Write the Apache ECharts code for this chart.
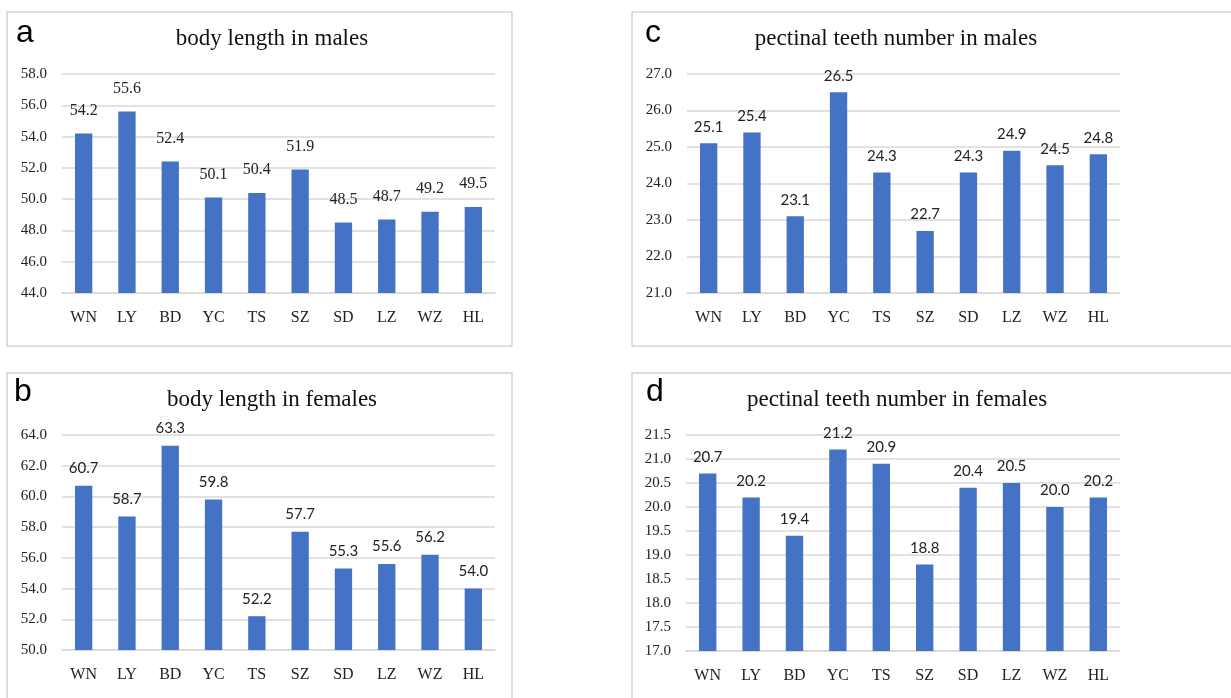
<!DOCTYPE html>
<html>
<head>
<meta charset="utf-8">
<script src="https://cdn.jsdelivr.net/npm/echarts@6/dist/echarts.min.js"></script>
<style>
  html, body { margin: 0; padding: 0; background: #fff; }
  #chart { width: 1231px; height: 698px; }
</style>
</head>
<body>
<div id="chart"></div>
<script>
// Sampling localities
const categories = ['WN', 'LY', 'BD', 'YC', 'TS', 'SZ', 'SD', 'LZ', 'WZ', 'HL'];

// Mean values per locality
const bodyLengthMales = [54.2, 55.6, 52.4, 50.1, 50.4, 51.9, 48.5, 48.7, 49.2, 49.5];
const bodyLengthFemales = [60.7, 58.7, 63.3, 59.8, 52.2, 57.7, 55.3, 55.6, 56.2, 54.0];
const teethMales = [25.1, 25.4, 23.1, 26.5, 24.3, 22.7, 24.3, 24.9, 24.5, 24.8];
const teethFemales = [20.7, 20.2, 19.4, 21.2, 20.9, 18.8, 20.4, 20.5, 20.0, 20.2];

// Panel titles and letters
const panelTitles = ['body length in males', 'body length in females',
                     'pectinal teeth number in males', 'pectinal teeth number in females'];
const panelLetters = ['a', 'b', 'c', 'd'];

// Value-axis ranges: [min, max, interval]
const axisRanges = [[44, 58, 2], [50, 64, 2], [21, 27, 1], [17, 21.5, 0.5]];

const BAR = '#4472c4';
const GRID_LINE = '#d9d9d9';
const SERIF = '"Liberation Serif", "Times New Roman", serif';
const SANS = '"Liberation Sans", Arial, sans-serif';
const LABEL_SANS = 'Lato, "Open Sans", sans-serif';

const grids = [
  { left: 62, top: 74, width: 433, height: 219 },
  { left: 62, top: 435, width: 433, height: 215 },
  { left: 687, top: 74, width: 433, height: 219 },
  { left: 686, top: 435, width: 434, height: 216 }
];
const titleCenters = [[267, 22], [267, 383], [891, 22], [892, 383]];
const letterPos = [[16, 17], [14, 376], [645, 17], [646, 376]];
const panelBoxes = [[7, 12, 505, 334], [7, 373, 505, 335], [632, 12, 610, 334], [632, 373, 610, 335]];
const seriesData = [bodyLengthMales, bodyLengthFemales, teethMales, teethFemales];
const labelDistance = [15, 10, 9, 9];

const chart = echarts.init(document.getElementById('chart'));

const xAxes = grids.map((g, i) => ({
  type: 'category',
  gridIndex: i,
  data: categories,
  axisTick: { show: false },
  axisLine: { show: true, lineStyle: { color: GRID_LINE, width: 1.5 } },
  axisLabel: { fontFamily: SERIF, fontSize: 16, color: '#222', margin: 17 }
}));

const yAxes = axisRanges.map((r, i) => ({
  type: 'value',
  gridIndex: i,
  min: r[0],
  max: r[1],
  interval: r[2],
  axisLine: { show: false },
  axisTick: { show: false },
  splitLine: { lineStyle: { color: GRID_LINE, width: 1.5 } },
  axisLabel: {
    fontFamily: SERIF, fontSize: 15, color: '#222', margin: 15,
    formatter: v => v.toFixed(1)
  }
}));

const series = seriesData.map((d, i) => ({
  type: 'bar',
  xAxisIndex: i,
  yAxisIndex: i,
  data: d,
  barWidth: '40%',
  itemStyle: { color: BAR },
  label: {
    show: true,
    position: 'top',
    distance: labelDistance[i],
    fontFamily: i === 0 ? SERIF : LABEL_SANS,
    fontSize: i === 0 ? 16 : 15,
    color: '#222',
    formatter: p => p.value.toFixed(1)
  }
}));

const titles = panelTitles.map((t, i) => ({
  text: t,
  left: titleCenters[i][0],
  top: titleCenters[i][1],
  textAlign: 'center',
  textStyle: { fontFamily: SERIF, fontSize: 23, fontWeight: 'normal', color: '#111' }
}));

const graphics = [];
panelBoxes.forEach(b => {
  graphics.push({
    type: 'rect', z: -1,
    shape: { x: b[0], y: b[1], width: b[2], height: b[3] },
    style: { fill: '#fff', stroke: '#d4d4d4', lineWidth: 1.5 }
  });
});
panelLetters.forEach((l, i) => {
  graphics.push({
    type: 'text',
    x: letterPos[i][0],
    y: letterPos[i][1],
    style: { text: l, fontFamily: SANS, fontSize: 32, fill: '#000' }
  });
});

chart.setOption({
  animation: false,
  backgroundColor: '#fff',
  title: titles,
  grid: grids,
  xAxis: xAxes,
  yAxis: yAxes,
  series: series,
  graphic: graphics
});
</script>
</body>
</html>
